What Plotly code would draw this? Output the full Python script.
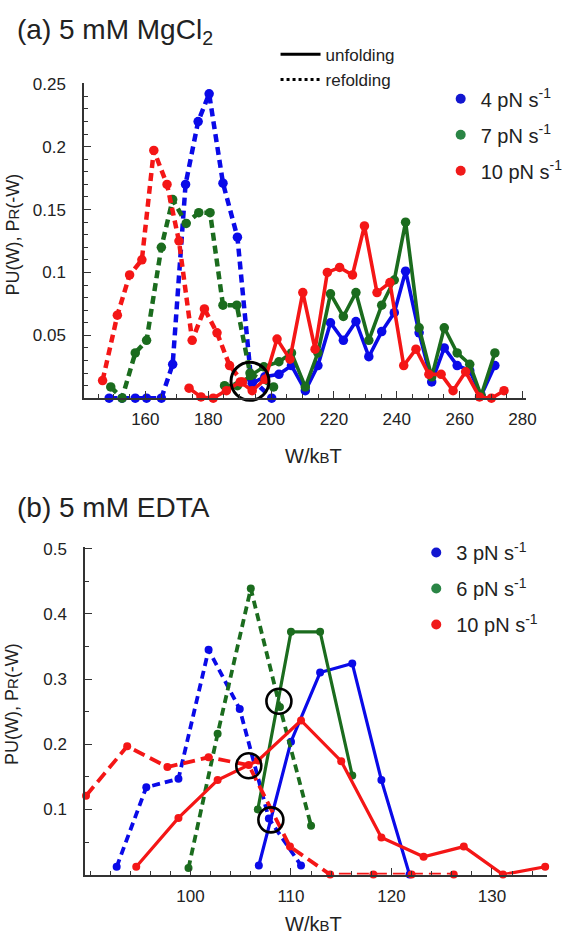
import plotly.graph_objects as go

W, H = 568, 938

# ---------------- Panel (a): 5 mM MgCl2 ----------------
a_blue_ref_x = [148.5, 152.6, 156.8, 160.4, 165.1, 168.7, 172.8, 176.8, 180.3, 184.7, 189.3, 193.6, 200.2]
a_blue_ref_y = [0, 0, 0, 0, 0, 0.027, 0.170, 0.220, 0.242, 0.171, 0.128, 0.016, 0]
a_blue_unf_x = [194.0, 198.0, 202.5, 206.5, 210.9, 214.9, 218.9, 223.0, 227.0, 231.1, 235.2, 239.2, 242.8,
                247.1, 251.1, 255.1, 259.2, 263.2, 266.8, 271.2]
a_blue_unf_y = [0.012, 0.017, 0.019, 0.026, 0.006, 0.026, 0.060, 0.046, 0.061, 0.033, 0.053, 0.068, 0.101,
                0.052, 0.013, 0.040, 0.026, 0.022, 0.002, 0.026]

a_green_ref_x = [149.0, 152.6, 156.8, 160.4, 165.1, 168.7, 173.0, 177.0, 180.6, 184.7, 189.1, 193.3, 200.8]
a_green_ref_y = [0.009, 0, 0.036, 0.046, 0.120, 0.158, 0.139, 0.1475, 0.1475, 0.074, 0.074, 0.020, 0.009]
a_green_unf_x = [185.2, 189.3, 193.5, 197.7, 202.5, 206.5, 210.9, 214.9, 218.9, 223.0, 227.0, 231.1, 235.2,
                 239.2, 242.8, 247.1, 251.1, 255.1, 259.2, 263.2, 266.8, 271.2]
a_green_unf_y = [0.010, 0.010, 0.018, 0.025, 0.029, 0.036, 0.009, 0.036, 0.083, 0.065, 0.084, 0.046, 0.074,
                 0.094, 0.140, 0.056, 0.017, 0.056, 0.036, 0.027, 0.002, 0.036]

a_red_ref_x = [146.4, 151.1, 155.0, 158.9, 162.7, 166.9, 170.7, 174.9, 178.8, 182.8, 186.8, 190.9]
a_red_ref_y = [0.014, 0.066, 0.098, 0.110, 0.197, 0.170, 0.125, 0.046, 0.071, 0.052, 0.026, 0.013]
a_red_unf_x = [173.9, 177.7, 181.6, 185.8, 190.2, 194.0, 198.1, 201.9, 206.0, 210.1, 214.0, 217.9, 221.8,
               225.9, 229.7, 233.7, 237.8, 242.2, 246.1, 250.2, 254.1, 257.9, 261.9, 266.3, 270.1, 274.1]
a_red_unf_y = [0.008, 0.001, 0, 0.006, 0.013, 0.006, 0.015, 0.047, 0.031, 0.084, 0.039, 0.100, 0.104,
               0.098, 0.137, 0.084, 0.092, 0.026, 0.039, 0.019, 0.019, 0.006, 0.021, 0.001, 0, 0.006]

a_cross_x = [193.3]
a_cross_y = [0.0134]

a_rates = ["4 pN s<sup>-1</sup>", "7 pN s<sup>-1</sup>", "10 pN s<sup>-1</sup>"]
a_xticks = [160, 180, 200, 220, 240, 260, 280]
a_yticks = [0.05, 0.1, 0.15, 0.2, 0.25]

# ---------------- Panel (b): 5 mM EDTA ----------------
b_blue_ref_x = [92.65, 95.6, 98.8, 101.8, 104.9, 107.8, 111.0]
b_blue_ref_y = [0.012, 0.134, 0.147, 0.345, 0.254, 0.086, 0.014]
b_blue_unf_x = [106.8, 110.0, 112.9, 116.1, 119.0, 121.8]
b_blue_unf_y = [0.014, 0.204, 0.310, 0.324, 0.145, 0.0]

b_green_ref_x = [99.8, 102.7, 106.0, 108.9, 112.0]
b_green_ref_y = [0.010, 0.216, 0.439, 0.257, 0.075]
b_green_unf_x = [106.7, 110.0, 112.9, 116.1]
b_green_unf_y = [0.100, 0.3725, 0.3725, 0.152]

b_red_ref_x = [89.6, 93.7, 97.7, 101.8, 105.8, 109.9, 113.9, 118.2, 122.0, 126.2]
b_red_ref_y = [0.121, 0.197, 0.165, 0.180, 0.168, 0.043, 0.0, 0.0, 0.0, 0.0]
b_red_unf_x = [94.6, 98.8, 102.7, 106.7, 111.0, 115.0, 119.0, 123.2, 127.2, 131.1, 135.3]
b_red_unf_y = [0.012, 0.087, 0.145, 0.175, 0.2365, 0.174, 0.057, 0.0275, 0.043, 0.0, 0.012]

b_cross_x = [108.8, 105.8, 108.0]
b_cross_y = [0.266, 0.167, 0.084]

b_rates = ["3 pN s<sup>-1</sup>", "6 pN s<sup>-1</sup>", "10 pN s<sup>-1</sup>"]
b_xticks = [100, 110, 120, 130]
b_yticks = [0.1, 0.2, 0.3, 0.4, 0.5]

# ---------------- styling ----------------
BLUE, GREEN, RED = "#0a0ae8", "#1b6c1e", "#f41616"
LEG_COLORS = ["#1216d0", "#2a8545", "#f01a1a"]
FONT = "Liberation Sans, Arial, Helvetica, sans-serif"
AX = "#333333"


def px2x(px):
    return px / W


def py2y(py):
    return 1 - py / H


fig = go.Figure()


def add_series(xs, ys, color, dashed, xa, ya, lw, ms, dash):
    fig.add_trace(go.Scatter(
        x=xs, y=ys, mode="lines+markers", xaxis=xa, yaxis=ya,
        line=dict(color=color, width=lw, dash=dash if dashed else "solid"),
        marker=dict(color=color, size=ms),
        cliponaxis=False, showlegend=False, hoverinfo="skip"))


# panel (a)
for (xr, yr, xu, yu, c) in [
        (a_blue_ref_x, a_blue_ref_y, a_blue_unf_x, a_blue_unf_y, BLUE),
        (a_green_ref_x, a_green_ref_y, a_green_unf_x, a_green_unf_y, GREEN),
        (a_red_ref_x, a_red_ref_y, a_red_unf_x, a_red_unf_y, RED)]:
    add_series(xr, yr, c, True, "x", "y", 4.5, 9.5, "8px,5px")
    add_series(xu, yu, c, False, "x", "y", 3.6, 9.5, None)

fig.add_trace(go.Scatter(x=a_cross_x, y=a_cross_y, mode="markers", xaxis="x", yaxis="y",
                         marker=dict(symbol="circle-open", size=38, color="black", line=dict(width=3)),
                         cliponaxis=False, showlegend=False, hoverinfo="skip"))

# panel (b)
for (xr, yr, xu, yu, c, d) in [
        (b_blue_ref_x, b_blue_ref_y, b_blue_unf_x, b_blue_unf_y, BLUE, "8px,5px"),
        (b_green_ref_x, b_green_ref_y, b_green_unf_x, b_green_unf_y, GREEN, "8px,5px"),
        (b_red_ref_x, b_red_ref_y, b_red_unf_x, b_red_unf_y, RED, "12px,6px")]:
    add_series(xr, yr, c, True, "x2", "y2", 3.8, 8, d)
    add_series(xu, yu, c, False, "x2", "y2", 3.2, 8, None)

fig.add_trace(go.Scatter(x=b_cross_x, y=b_cross_y, mode="markers", xaxis="x2", yaxis="y2",
                         marker=dict(symbol="circle-open", size=25, color="black", line=dict(width=2.6)),
                         cliponaxis=False, showlegend=False, hoverinfo="skip"))

# legends
fig.add_trace(go.Scatter(x=[None], y=[None], mode="lines", name="unfolding", legend="legend",
                         line=dict(color="black", width=3), xaxis="x", yaxis="y"))
fig.add_trace(go.Scatter(x=[None], y=[None], mode="lines", name="refolding", legend="legend",
                         line=dict(color="black", width=3, dash="dot"), xaxis="x", yaxis="y"))
for i, (name, c) in enumerate(zip(a_rates, LEG_COLORS)):
    fig.add_trace(go.Scatter(x=[None], y=[None], mode="markers", name=name, legend="legend2",
                             legendgroup="a%d" % i, marker=dict(color=c, size=10), xaxis="x", yaxis="y"))
for i, (name, c) in enumerate(zip(b_rates, LEG_COLORS)):
    fig.add_trace(go.Scatter(x=[None], y=[None], mode="markers", name=name, legend="legend3",
                             legendgroup="b%d" % i, marker=dict(color=c, size=10), xaxis="x2", yaxis="y2"))


def axis(domain, rng, tickvals, minor_dtick, minor_tick0, anchor, standoff, fmt=None):
    d = dict(domain=domain, range=rng, anchor=anchor, showline=True, linecolor=AX, linewidth=1.5,
             ticks="inside", ticklen=7, tickwidth=1.3, tickcolor=AX, showgrid=False, zeroline=False,
             tickmode="array", tickvals=tickvals, ticklabelstandoff=standoff,
             tickfont=dict(size=17, color="#222222", family=FONT),
             minor=dict(tickmode="linear", dtick=minor_dtick, tick0=minor_tick0, ticks="inside",
                        ticklen=4, tickwidth=1.1, tickcolor=AX, showgrid=False))
    if fmt:
        d["ticktext"] = [fmt(v) for v in tickvals]
    return d


fig.update_layout(
    width=W, height=H, margin=dict(l=0, r=0, t=0, b=0),
    paper_bgcolor="white", plot_bgcolor="white",
    font=dict(family=FONT, color="#222222"),
    xaxis=axis([px2x(86), px2x(538)], [140.5, 281], a_xticks, 5, 140, "y", 5),
    yaxis=axis([py2y(393), py2y(75)], [0, 0.2504], a_yticks, 0.01, 0, "x", 13, lambda v: ("%g" % v)),
    xaxis2=axis([px2x(87), px2x(560)], [89.5, 135.5], b_xticks, 2, 90, "y2", 5),
    yaxis2=axis([py2y(874), py2y(543)], [0, 0.503], b_yticks, 0.05, 0, "x2", 13, lambda v: ("%g" % v)),
    legend=dict(x=px2x(282), y=py2y(28), xanchor="left", yanchor="top", bgcolor="rgba(0,0,0,0)",
                font=dict(size=17, family=FONT, color="#222222"), tracegroupgap=0, itemwidth=40),
    legend2=dict(x=px2x(451), y=py2y(71), xanchor="left", yanchor="top", bgcolor="rgba(0,0,0,0)",
                 font=dict(size=20, family=FONT, color="#222222"), tracegroupgap=7, traceorder="grouped"),
    legend3=dict(x=px2x(426), y=py2y(529), xanchor="left", yanchor="top", bgcolor="rgba(0,0,0,0)",
                 font=dict(size=20, family=FONT, color="#222222"), tracegroupgap=7, traceorder="grouped"),
)

small = "<span style='font-size:15px'>%s</span>"
ann = [
    dict(text="(a) 5 mM MgCl<sub>2</sub>", x=px2x(15), y=py2y(23), xanchor="left", yanchor="middle",
         font=dict(size=28)),
    dict(text="(b) 5 mM EDTA", x=px2x(15), y=py2y(503), xanchor="left", yanchor="middle",
         font=dict(size=28)),
    dict(text="W/k" + small % "B" + "T", x=px2x(321), y=py2y(451), xanchor="center", yanchor="middle",
         font=dict(size=20)),
    dict(text="W/k" + small % "B" + "T", x=px2x(321), y=py2y(924), xanchor="center", yanchor="middle",
         font=dict(size=20)),
    dict(text="PU(W), P" + small % "R" + "(-W)", x=px2x(13), y=py2y(228), xanchor="center",
         yanchor="middle", textangle=-90, font=dict(size=18)),
    dict(text="PU(W), P" + small % "R" + "(-W)", x=px2x(13), y=py2y(702), xanchor="center",
         yanchor="middle", textangle=-90, font=dict(size=18)),
]
for a in ann:
    a.update(xref="paper", yref="paper", showarrow=False)
    a["font"].update(family=FONT, color="#222222")
fig.update_layout(annotations=ann)

fig.write_html("out.html", config={"displayModeBar": False},
               post_script="document.body.style.margin='0px';document.body.style.padding='0px';")
